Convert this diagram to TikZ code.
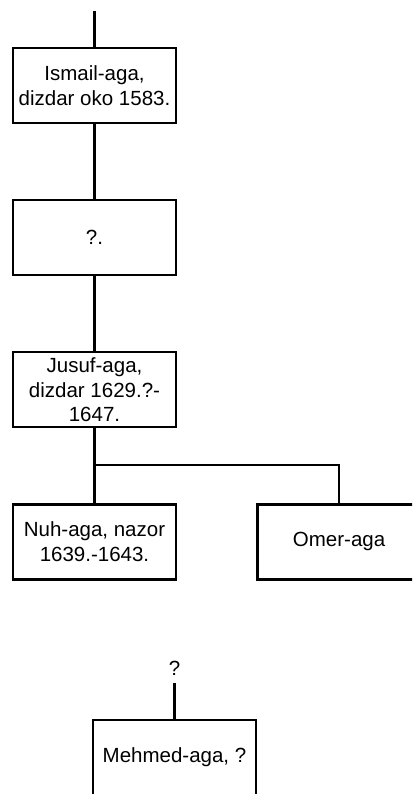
\documentclass[tikz,border=0pt]{standalone}
\usepackage{fontspec}
\setmainfont{Liberation Sans}
\usetikzlibrary{calc,positioning}

\begin{document}
\begin{tikzpicture}[x=1pt,y=1pt,node distance=74.5pt and 79pt,line width=2.6pt,
      font=\fontsize{20.5}{24.5}\selectfont,
      pb/.style={draw,minimum width=163pt,minimum height=75pt,inner sep=1pt,align=center},
      lbl/.style={inner sep=6pt}]
      \useasboundingbox (0,0) rectangle (412,794);
      \clip (0,0) rectangle (412,794);
      \coordinate (top) at (94.5,783);
      \node[pb] (ismail) at (94.5,708.5) {Ismail-aga,\\dizdar oko 1583.};
      \node[pb,below=of ismail] (unk) {?.};
      \node[pb,below=of unk] (jusuf) {Jusuf-aga,\\dizdar 1629.?-\\1647.};
      \node[pb,below=of jusuf] (nuh) {Nuh-aga, nazor\\1639.-1643.};
      \node[pb,right=of nuh] (omer) {Omer-aga};
      \coordinate (fork) at ($(jusuf.south)!.49!(nuh.north)$);
      \node[pb] (mehmed) at (174.5,36.5) {Mehmed-aga, ?};
      \node[lbl,anchor=south] (q) at (174.5,111) {?};
      \draw (top) -- (ismail);
      \draw (ismail) -- (unk);
      \draw (unk) -- (jusuf);
      \draw (jusuf) -- (nuh);
      \draw (fork) -| (omer);
      \draw (q) -- (mehmed);
    \end{tikzpicture}
\end{document}
